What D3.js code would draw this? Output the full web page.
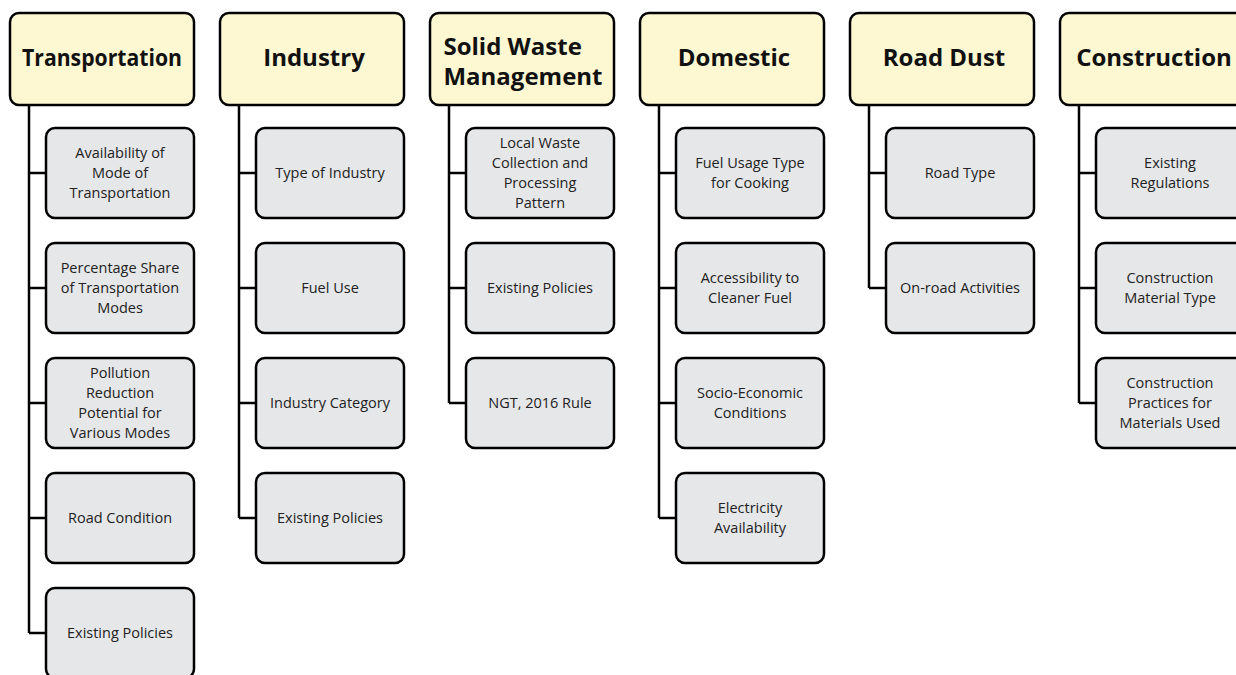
<!DOCTYPE html>
<html>
<head>
<meta charset="utf-8">
<script src="https://cdn.jsdelivr.net/npm/d3@7"></script>
<style>
  body { margin: 0; background: #fff; }
  svg { display: block; font-family: 'Open Sans', sans-serif; }
</style>
</head>
<body>
<svg id="chart" width="1236" height="675"></svg>
<script>
// sectors (header boxes), each line of a label is split with |
var sectors = ['Transportation', 'Industry', 'Solid Waste|Management', 'Domestic', 'Road Dust', 'Construction'];

// factors under each sector
var transportFactors = ['Availability of|Mode of|Transportation', 'Percentage Share|of Transportation|Modes',
	'Pollution|Reduction|Potential for|Various Modes', 'Road Condition', 'Existing Policies'];
var industryFactors = ['Type of Industry', 'Fuel Use', 'Industry Category', 'Existing Policies'];
var wasteFactors = ['Local Waste|Collection and|Processing|Pattern', 'Existing Policies', 'NGT, 2016 Rule'];
var domesticFactors = ['Fuel Usage Type|for Cooking', 'Accessibility to|Cleaner Fuel', 'Socio-Economic|Conditions', 'Electricity|Availability'];
var roadDustFactors = ['Road Type', 'On-road Activities'];
var constructionFactors = ['Existing|Regulations', 'Construction|Material Type', 'Construction|Practices for|Materials Used'];

var factors = [transportFactors, industryFactors, wasteFactors, domesticFactors, roadDustFactors, constructionFactors];

var svg = d3.select('svg#chart');

// column and row positions
var xCol = d3.scaleBand().domain(d3.range(sectors.length)).range([10, 10 + 210 * 6]).paddingInner(0);
var headW = 184, headTop = 13, headH = 92;
var childX = 36, childW = 148, childH = 90;
var yRow = d3.scaleLinear().domain([0, 1]).range([128, 243]);	// top of each child box
var lineX = 19;
var headMaxW = 160;	// long titles get squeezed to fit the box

var cols = svg.selectAll('g.col')
	.data(sectors)
	.enter()
	.append('g')
	.attr('class', 'col')
	.attr('transform', function(d, i) { return 'translate(' + xCol(i) + ',0)'; });

// vertical trunk
cols.append('line')
	.attr('x1', lineX).attr('x2', lineX)
	.attr('y1', headTop + headH)
	.attr('y2', function(d, i) { return yRow(factors[i].length - 1) + childH / 2; })
	.style('stroke', '#000')
	.style('stroke-width', 2.5);

// header box
cols.append('rect')
	.attr('x', 0).attr('y', headTop)
	.attr('width', headW).attr('height', headH)
	.attr('rx', 9)
	.style('fill', '#fdf8d2')
	.style('stroke', '#000')
	.style('stroke-width', 2.5);

cols.append('text')
	.style('font-size', '24px')
	.style('font-weight', 'bold')
	.style('fill', '#111')
	.each(function(d) {
		var lines = d.split('|');
		var t = d3.select(this);
		var lh = 30;
		var y0 = 66 - (lines.length - 1) * 11;
		var spans = lines.map(function(s, k) {
			return t.append('tspan').attr('y', y0 + k * lh).text(s);
		});
		// multi-line titles are left aligned on the widest line
		var widths = spans.map(function(sp) { return sp.node().getComputedTextLength(); });
		var maxW = d3.max(widths);
		spans.forEach(function(sp, k) {
			if (maxW > headMaxW) {
				sp.attr('textLength', headMaxW).attr('lengthAdjust', 'spacingAndGlyphs');
				sp.attr('x', (headW - headMaxW) / 2);
			} else if (lines.length > 1) {
				sp.attr('x', (headW - maxW) / 2 + 1);
			} else {
				sp.attr('x', (headW - widths[k]) / 2 + 2);
			}
		});
	});

// children
var kids = cols.selectAll('g.kid')
	.data(function(d, i) { return factors[i]; })
	.enter()
	.append('g')
	.attr('class', 'kid')
	.attr('transform', function(d, j) { return 'translate(0,' + yRow(j) + ')'; });

kids.append('line')
	.attr('x1', lineX).attr('x2', childX)
	.attr('y1', childH / 2).attr('y2', childH / 2)
	.style('stroke', '#000')
	.style('stroke-width', 2.5);

kids.append('rect')
	.attr('x', childX).attr('y', 0)
	.attr('width', childW).attr('height', childH)
	.attr('rx', 9)
	.style('fill', '#e6e7e9')
	.style('stroke', '#000')
	.style('stroke-width', 2.5);

kids.append('text')
	.attr('text-anchor', 'middle')
	.style('font-size', '14.5px')
	.style('fill', '#222')
	.each(function(d) {
		var lines = d.split('|');
		var t = d3.select(this);
		var lh = 20;
		var y0 = childH / 2 - (lines.length - 1) * lh / 2 + 5;
		lines.forEach(function(s, k) {
			t.append('tspan').attr('x', childX + childW / 2).attr('y', y0 + k * lh).text(s);
		});
	});
</script>
</body>
</html>
